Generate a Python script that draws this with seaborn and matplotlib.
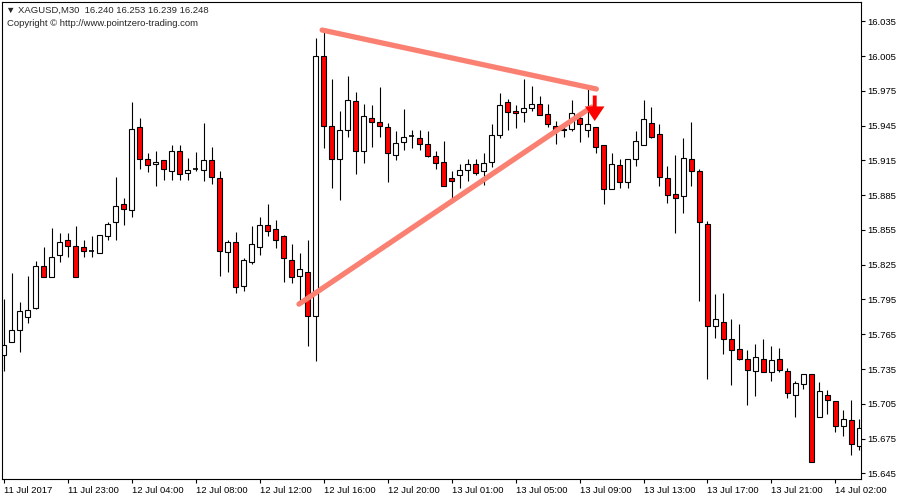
import numpy as np
import pandas as pd
import matplotlib
matplotlib.use("Agg")
import matplotlib.pyplot as plt
import seaborn as sns

# XAGUSD M30 candles
opens = [15.747, 15.758, 15.769, 15.780, 15.788, 15.824, 15.814, 15.833, 15.846, 15.841,
         15.840, 15.837, 15.835, 15.850, 15.862, 15.877, 15.872, 15.944, 15.916, 15.912,
         15.915, 15.906, 15.923, 15.904, 15.908, 15.907, 15.915, 15.900, 15.836, 15.845,
         15.807, 15.827, 15.840, 15.859, 15.856, 15.850, 15.829, 15.815, 15.819, 15.781,
         16.005, 15.945, 15.916, 15.941, 15.966, 15.923, 15.952, 15.948, 15.944, 15.920,
         15.931, 15.936, 15.934, 15.929, 15.919, 15.914, 15.900, 15.902, 15.907, 15.912,
         15.906, 15.914, 15.937, 15.965, 15.958, 15.957, 15.960, 15.964, 15.955, 15.945,
         15.941, 15.942, 15.952, 15.941, 15.944, 15.928, 15.890, 15.911, 15.896, 15.916,
         15.928, 15.947, 15.938, 15.900, 15.886, 15.884, 15.916, 15.906, 15.860, 15.772,
         15.776, 15.761, 15.752, 15.744, 15.733, 15.744, 15.732, 15.744, 15.733, 15.713,
         15.722, 15.731, 15.694, 15.713, 15.707, 15.686, 15.691, 15.669]
highs = [15.795, 15.818, 15.793, 15.815, 15.828, 15.840, 15.857, 15.852, 15.852, 15.858,
         15.846, 15.850, 15.851, 15.862, 15.901, 15.883, 15.965, 15.952, 15.921, 15.923,
         15.915, 15.928, 15.928, 15.917, 15.922, 15.947, 15.927, 15.906, 15.846, 15.853,
         15.831, 15.858, 15.866, 15.877, 15.864, 15.851, 15.843, 15.835, 15.846, 16.021,
         16.028, 15.985, 15.958, 15.988, 15.974, 15.964, 15.963, 15.978, 15.947, 15.940,
         15.959, 15.941, 15.941, 15.940, 15.923, 15.932, 15.906, 15.912, 15.916, 15.916,
         15.921, 15.946, 15.973, 15.968, 15.963, 15.985, 15.979, 15.971, 15.964, 15.949,
         15.946, 15.967, 15.955, 15.978, 15.944, 15.928, 15.921, 15.916, 15.916, 15.940,
         15.967, 15.961, 15.946, 15.910, 15.920, 15.934, 15.948, 15.908, 15.863, 15.800,
         15.801, 15.778, 15.774, 15.751, 15.757, 15.761, 15.755, 15.753, 15.736, 15.725,
         15.731, 15.731, 15.724, 15.717, 15.707, 15.700, 15.708, 15.692]
lows = [15.733, 15.758, 15.750, 15.775, 15.787, 15.814, 15.814, 15.827, 15.832, 15.814,
        15.832, 15.832, 15.835, 15.846, 15.846, 15.859, 15.866, 15.908, 15.905, 15.893,
        15.898, 15.898, 15.898, 15.898, 15.906, 15.897, 15.895, 15.815, 15.819, 15.801,
        15.802, 15.826, 15.833, 15.850, 15.839, 15.810, 15.809, 15.791, 15.755, 15.742,
        15.926, 15.891, 15.881, 15.935, 15.903, 15.913, 15.927, 15.935, 15.896, 15.915,
        15.924, 15.926, 15.924, 15.918, 15.908, 15.893, 15.881, 15.891, 15.897, 15.902,
        15.894, 15.909, 15.934, 15.941, 15.943, 15.948, 15.958, 15.954, 15.944, 15.929,
        15.935, 15.940, 15.931, 15.935, 15.921, 15.877, 15.890, 15.891, 15.891, 15.910,
        15.928, 15.934, 15.893, 15.878, 15.852, 15.870, 15.893, 15.794, 15.726, 15.762,
        15.748, 15.721, 15.743, 15.704, 15.712, 15.732, 15.725, 15.732, 15.710, 15.694,
        15.718, 15.655, 15.694, 15.696, 15.681, 15.677, 15.661, 15.665]
closes = [15.756, 15.769, 15.785, 15.786, 15.824, 15.814, 15.832, 15.845, 15.841, 15.814,
          15.837, 15.837, 15.851, 15.860, 15.876, 15.873, 15.942, 15.916, 15.911, 15.914,
          15.908, 15.923, 15.903, 15.907, 15.908, 15.915, 15.901, 15.837, 15.845, 15.806,
          15.829, 15.843, 15.859, 15.854, 15.846, 15.831, 15.814, 15.821, 15.781, 16.005,
          15.945, 15.916, 15.941, 15.967, 15.923, 15.953, 15.948, 15.945, 15.921, 15.930,
          15.935, 15.936, 15.929, 15.919, 15.913, 15.893, 15.897, 15.907, 15.912, 15.904,
          15.913, 15.937, 15.963, 15.957, 15.956, 15.960, 15.964, 15.954, 15.946, 15.941,
          15.942, 15.956, 15.946, 15.946, 15.927, 15.890, 15.912, 15.896, 15.916, 15.932,
          15.951, 15.935, 15.901, 15.885, 15.883, 15.917, 15.906, 15.862, 15.772, 15.778,
          15.761, 15.751, 15.744, 15.734, 15.745, 15.732, 15.743, 15.734, 15.714, 15.723,
          15.731, 15.655, 15.716, 15.708, 15.686, 15.692, 15.670, 15.684]

tick_labels = ["11 Jul 2017", "11 Jul 23:00", "12 Jul 04:00", "12 Jul 08:00",
               "12 Jul 12:00", "12 Jul 16:00", "12 Jul 20:00", "13 Jul 01:00",
               "13 Jul 05:00", "13 Jul 09:00", "13 Jul 13:00", "13 Jul 17:00",
               "13 Jul 21:00", "14 Jul 02:00"]
price_ticks = [16.035, 16.005, 15.975, 15.945, 15.915, 15.885, 15.855,
               15.825, 15.795, 15.765, 15.735, 15.705, 15.675, 15.645]

# triangle trend lines (bar index, price)
upper_x = [39.8, 74.1]
upper_y = [16.0275, 15.9766]
lower_x = [36.9, 73.5]
lower_y = [15.791, 15.961]

# sell arrow
arrow_x = 73.9
arrow_top = 15.971
arrow_tip = 15.949

df = pd.DataFrame({"open": opens, "high": highs, "low": lows, "close": closes})
df["idx"] = np.arange(len(df))

sns.set_style("white")
plt.rcParams['font.family'] = ['Liberation Sans', 'DejaVu Sans']

fig = plt.figure(figsize=(9, 5), dpi=100)
ax = fig.add_axes([2.3 / 900, 21 / 500, 858.4 / 900, 477 / 500])

# wicks
ax.vlines(df["idx"], df["low"], df["high"], color="black", linewidth=0.8, zorder=2)

# bodies
up = df[df["close"] > df["open"]]
down = df[df["close"] < df["open"]]
flat = df[df["close"] == df["open"]]
ax.bar(up["idx"], up["close"] - up["open"], bottom=up["open"], width=0.62,
       color="white", edgecolor="black", linewidth=0.8, zorder=3)
ax.bar(down["idx"], down["open"] - down["close"], bottom=down["close"], width=0.62,
       color="#ff0000", edgecolor="black", linewidth=0.8, zorder=3)
ax.hlines(flat["close"], flat["idx"] - 0.31, flat["idx"] + 0.31, color="black",
          linewidth=1.2, zorder=3)

# trend lines
sns.lineplot(x=upper_x, y=upper_y, ax=ax, color="#fa8072", linewidth=3.8,
             solid_capstyle="round", zorder=4)
sns.lineplot(x=lower_x, y=lower_y, ax=ax, color="#fa8072", linewidth=3.8,
             solid_capstyle="round", zorder=4)

ax.annotate("", xy=(arrow_x, arrow_tip), xytext=(arrow_x, arrow_top),
            arrowprops=dict(arrowstyle="simple,head_length=0.75,head_width=1.0,tail_width=0.2",
                            color="#ff0000", lw=0, mutation_scale=14,
                            shrinkA=0, shrinkB=0), zorder=5)

ax.set_xlim(-0.21, 107.17)
ax.set_ylim(15.6401, 16.0517)

ax.yaxis.tick_right()
ax.set_yticks(price_ticks)
ax.set_yticklabels([f"{p:.3f}" for p in price_ticks], fontsize=6.8)
ax.set_xticks(np.arange(0, 8 * len(tick_labels), 8))
ax.set_xticklabels(tick_labels, fontsize=6.8, ha="left")
ax.tick_params(axis="both", length=3, width=0.8, color="black", pad=2,
               direction="out", labelcolor="black")
ax.tick_params(axis="y", right=True, left=False)
ax.tick_params(axis="x", bottom=True)
for s in ax.spines.values():
    s.set_color("black")
    s.set_linewidth(0.8)
ax.set_xlabel("")
ax.set_ylabel("")

fig.text(6 / 900, 1 - 10.5 / 500, "\u25bc XAGUSD,M30  16.240 16.253 16.239 16.248",
         fontsize=6.8, va="center", ha="left")
fig.text(7 / 900, 1 - 24 / 500, "Copyright \u00a9 http://www.pointzero-trading.com",
         fontsize=6.8, va="center", ha="left")

fig.savefig("out.png", dpi=100)
